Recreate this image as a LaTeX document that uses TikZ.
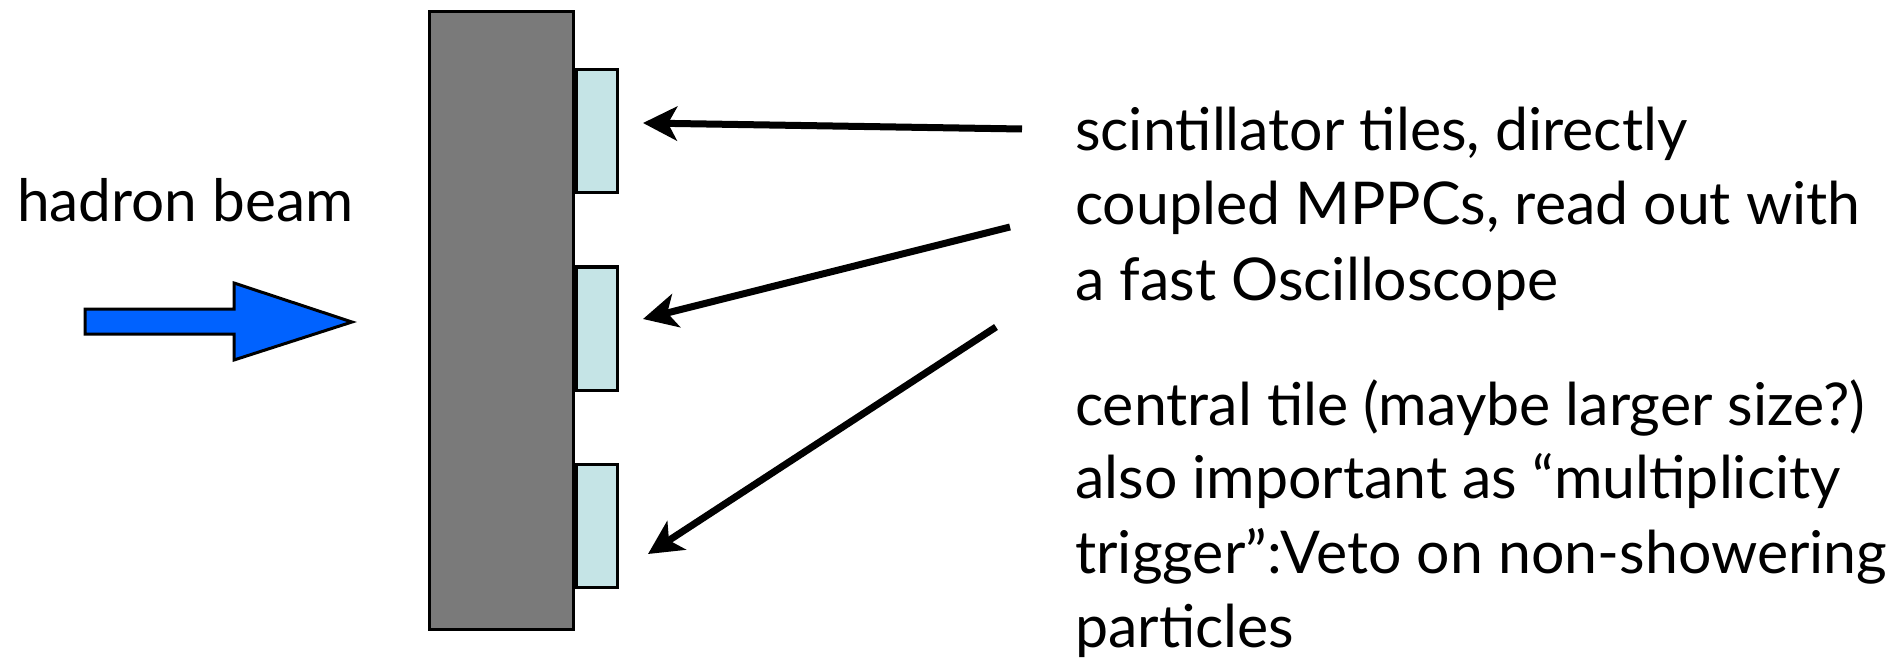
\documentclass[tikz,border=0pt]{standalone}
\usepackage{fontspec}
\setmainfont{Lato}
\usetikzlibrary{arrows.meta}
\definecolor{absgray}{RGB}{122,122,122}
\definecolor{tilecyan}{RGB}{197,228,230}
\definecolor{beamblue}{RGB}{0,98,255}
\tikzset{
  absorber/.style={draw=black, line width=3pt, fill=absgray, inner sep=0pt, minimum width=144pt, minimum height=617pt},
  tilebox/.style={draw=black, line width=3pt, fill=tilecyan, inner sep=0pt, minimum width=41pt, minimum height=123pt},
  txt/.style={anchor=base west, inner sep=0pt, font=\fontsize{59}{74}\selectfont},
  pointer/.style={line width=7pt, -{Stealth[length=34pt, width=34pt, inset=9pt]}},
  beam/.style={draw=black, line width=3pt, fill=beamblue, line join=miter}
}
\begin{document}
\begin{tikzpicture}[x=1pt, y=-1pt]
\useasboundingbox (0,0) rectangle (1902,660);
% absorber and tiles
\node[absorber] (abs) at (501,320.5) {};
\node[tilebox] (t1) at (596.5,131.5) {};
\node[tilebox] (t2) at (596.5,328.5) {};
\node[tilebox] (t3) at (596.5,525.5) {};
% beam arrow
\draw[beam] (85,309) -- (234,309) -- (234,283) -- (352,322) -- (234,360) -- (234,334) -- (85,334) -- cycle;
\node[txt, font=\fontsize{58.5}{74}\selectfont] (beamlabel) at (17,222) {hadron beam};
% descriptions
\node[txt] (a1) at (1075,151) {scintillator tiles, directly};
\node[txt] (a2) at (1075,225) {coupled MPPCs, read out with};
\node[txt] (a3) at (1075,300) {a fast Oscilloscope};
\node[txt] (b1) at (1075,425) {central tile (maybe larger size?)};
\node[txt] (b2) at (1075,498) {also important as “multiplicity};
\node[txt] (b3) at (1075,573) {trigger”:Veto on non-showering};
\node[txt] (b4) at (1075,647) {particles};
% pointers
\coordinate (s1) at (1022,129);
\coordinate (s2) at (1010,227);
\coordinate (s3) at (996,327);
\coordinate (e1) at (643,123);
\coordinate (e2) at (643,319);
\coordinate (e3) at (648,554);
\draw[pointer] (s1) -- (e1);
\draw[pointer] (s2) -- (e2);
\draw[pointer] (s3) -- (e3);
\end{tikzpicture}
\end{document}
